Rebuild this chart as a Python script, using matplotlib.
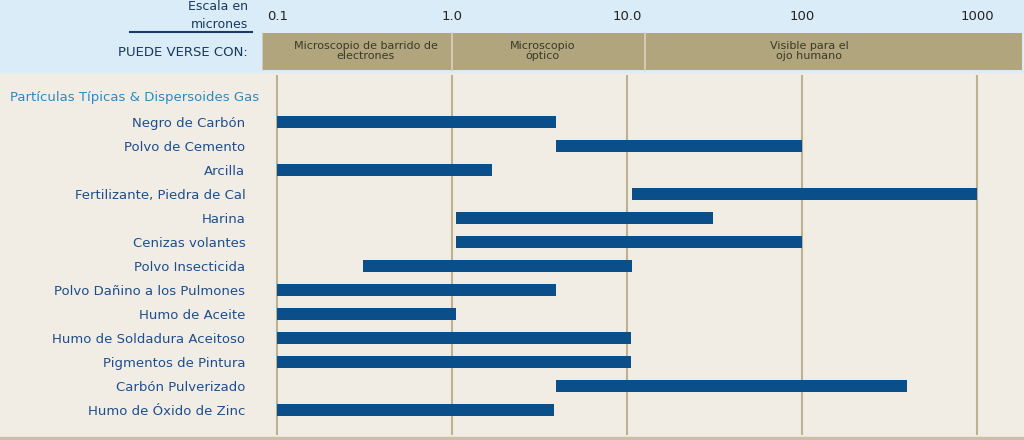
import matplotlib.pyplot as plt
import matplotlib.patches as mpatches

plt.rcParams['font.family'] = ['Liberation Sans Narrow', 'DejaVu Sans']

particulas = ['Negro de Carbón', 'Polvo de Cemento', 'Arcilla', 'Fertilizante, Piedra de Cal',
              'Harina', 'Cenizas volantes', 'Polvo Insecticida', 'Polvo Dañino a los Pulmones',
              'Humo de Aceite', 'Humo de Soldadura Aceitoso', 'Pigmentos de Pintura',
              'Carbón Pulverizado', 'Humo de Óxido de Zinc']
minimo = [0.1, 3.9, 0.1, 10.7, 1.05, 1.05, 0.31, 0.1, 0.1, 0.1, 0.1, 3.9, 0.1]
maximo = [3.9, 100, 1.7, 1000, 31, 100, 10.7, 3.9, 1.05, 10.5, 10.5, 400, 3.8]
ticks = [0.1, 1.0, 10.0, 100, 1000]
tick_labels = ['0.1', '1.0', '10.0', '100', '1000']
bandas = ['Microscopio de barrido de\nelectrones', 'Microscopio\nóptico', 'Visible para el\nojo humano']
bandas_lim = [(0.0819, 1.0), (1.0, 12.6), (12.6, 1805)]
bandas_txt = [0.32, 3.3, 110]

W, H = 1024, 440
azul = '#0b4f8a'
texto = '#1f4e8c'
crema = '#f1ede4'
celeste = '#d9ecf8'
tan = '#b0a57c'
xlim = (0.0819, 1805)

fig = plt.figure(figsize=(W / 100, H / 100), dpi=100, facecolor=crema)
fig.patches.append(mpatches.Rectangle((0, 1 - 72 / H), 1, 72 / H, transform=fig.transFigure,
                                      color=celeste, zorder=-5))
fig.patches.append(mpatches.Rectangle((0, 0), 1, 3 / H, transform=fig.transFigure,
                                      color='#c8c0a8', zorder=-5))

# cabecera
hx = fig.add_axes([262 / W, 1 - 71 / H, 760 / W, 71 / H])
hx.set_zorder(2)
hx.set_xscale('log')
hx.set_xlim(*xlim)
hx.set_ylim(71, 0)
hx.axis('off')
for (a, b), lab, xt in zip(bandas_lim, bandas, bandas_txt):
    hx.add_patch(mpatches.Rectangle((a, 33), b - a, 37, color=tan, lw=0))
    hx.axvline(a, ymin=0, ymax=38 / 71, color='#d9d2bd', lw=1.2)
    hx.text(xt, 51, lab, ha='center', va='center', fontsize=8, color='#3a3a2a', linespacing=0.95)
for t, l in zip(ticks, tick_labels):
    hx.text(t, 16, l, ha='center', va='center', fontsize=9.5, color='#222222')

fig.text(248 / W, 1 - 6 / H, 'Escala en', ha='right', va='center', fontsize=9, color='#1a3a5a')
fig.text(248 / W, 1 - 24 / H, 'micrones', ha='right', va='center', fontsize=9, color='#1a3a5a')
fig.add_artist(plt.Line2D([130 / W, 252 / W], [1 - 32 / H] * 2, color='#1a3a6a', lw=1.5))
fig.text(248 / W, 1 - 52 / H, 'PUEDE VERSE CON:', ha='right', va='center', fontsize=9.5,
         color='#1a3a5a')

# cuerpo
ax = fig.add_axes([262 / W, 5 / H, 760 / W, (435 - 75) / H])
ax.set_facecolor(crema)
ax.set_xscale('log')
ax.set_xlim(*xlim)
ax.set_ylim(13.05, -1.95)
for t in ticks:
    ax.axvline(t, color='#bdb290', lw=1.5, zorder=1)
pos = list(range(len(particulas)))
ax.barh(pos, [b - a for a, b in zip(minimo, maximo)], left=minimo, height=0.5,
        color=azul, zorder=3)
ax.set_yticks(pos)
ax.set_yticklabels(particulas, fontsize=9.5, color=texto)
ax.tick_params(axis='y', length=0, pad=12)
ax.set_xticks([])
ax.minorticks_off()
ax.tick_params(axis='x', which='both', length=0, labelbottom=False)
for s in ax.spines.values():
    s.set_visible(False)
ax.text(-252 / 760, -1, 'Partículas Típicas & Dispersoides Gas', transform=ax.get_yaxis_transform(),
        ha='left', va='center', fontsize=9.5, color='#2a8ac4')

fig.savefig('out.png', dpi=100, facecolor=crema)
